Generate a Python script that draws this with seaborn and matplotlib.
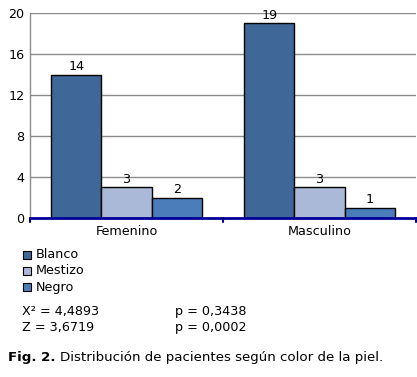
import matplotlib
matplotlib.use("Agg")
import matplotlib.pyplot as plt
import seaborn as sns
import pandas as pd
from matplotlib.patches import Rectangle

sexo = ["Femenino", "Masculino"]
color_piel = ["Blanco", "Mestizo", "Negro"]
blanco = [14, 19]
mestizo = [3, 3]
negro = [2, 1]
y_ticks = [0, 4, 8, 12, 16, 20]
colores = ["#3F6797", "#A9B9D7", "#4A7DBA"]

rows = []
for i, s in enumerate(sexo):
    for c, vals in zip(color_piel, [blanco, mestizo, negro]):
        rows.append({"sexo": s, "color": c, "n": vals[i]})
df = pd.DataFrame(rows)

sns.set_style("white")
plt.rcParams["font.family"] = ["DejaVu Sans"]
plt.rcParams["text.color"] = "black"
plt.rcParams["xtick.color"] = "black"
plt.rcParams["ytick.color"] = "black"

FS = 9.2
W, H = 417, 377
fig = plt.figure(figsize=(W / 100, H / 100), dpi=100)
ax = fig.add_axes([30 / W, 1 - 218 / H, 386 / W, 205 / H])

sns.barplot(data=df, x="sexo", y="n", hue="color", order=sexo, hue_order=color_piel,
            palette=colores, width=0.78, edgecolor="black", linewidth=1.0,
            saturation=1, legend=False, ax=ax, zorder=3)

for cont in ax.containers:
    ax.bar_label(cont, fmt="%d", padding=1, fontsize=FS, color="black")

ax.set_xlim(-0.5, 1.5)
ax.set_ylim(0, 20)
ax.set_yticks(y_ticks)
ax.set_yticklabels([str(t) for t in y_ticks], fontsize=FS)
ax.yaxis.grid(True, color="#8C8C8C", linewidth=1.0, zorder=0)
ax.set_axisbelow(True)
ax.set_xlabel("")
ax.set_ylabel("")
ax.tick_params(axis="y", length=0, pad=4)
ax.tick_params(axis="x", length=0, labelsize=FS, pad=5)
for sp in ["top", "right"]:
    ax.spines[sp].set_visible(False)
ax.spines["left"].set_color("#8C8C8C")
ax.spines["left"].set_linewidth(1.0)
ax.spines["bottom"].set_color("#000099")
ax.spines["bottom"].set_linewidth(2.0)
ax.spines["bottom"].set_zorder(5)
for xb in [-0.5, 0.5, 1.5]:
    ax.plot([xb, xb], [0, -0.35], color="#000099", linewidth=1.5, clip_on=False, zorder=5)

# legend
ly = [255, 271, 287]
for c, col, y in zip(color_piel, colores, ly):
    fig.patches.append(Rectangle((23 / W, 1 - (y + 4) / H), 8 / W, 8 / H,
                                 facecolor=col, edgecolor="black", linewidth=0.8,
                                 transform=fig.transFigure, figure=fig))
    fig.text(36 / W, 1 - y / H, c, fontsize=FS, va="center", ha="left")

fig.text(22 / W, 1 - 311 / H, "X² = 4,4893", fontsize=FS, va="center")
fig.text(175 / W, 1 - 311 / H, "p = 0,3438", fontsize=FS, va="center")
fig.text(22 / W, 1 - 328 / H, "Z = 3,6719", fontsize=FS, va="center")
fig.text(175 / W, 1 - 328 / H, "p = 0,0002", fontsize=FS, va="center")

t1 = fig.text(8 / W, 1 - 357 / H, "Fig. 2.", fontsize=9.6, fontweight="bold", va="center")
fig.canvas.draw()
bb = t1.get_window_extent()
fig.text((bb.x1 + 5) / W, 1 - 357 / H, "Distribución de pacientes según color de la piel.",
         fontsize=9.6, va="center")

fig.savefig("out.png", dpi=100)
